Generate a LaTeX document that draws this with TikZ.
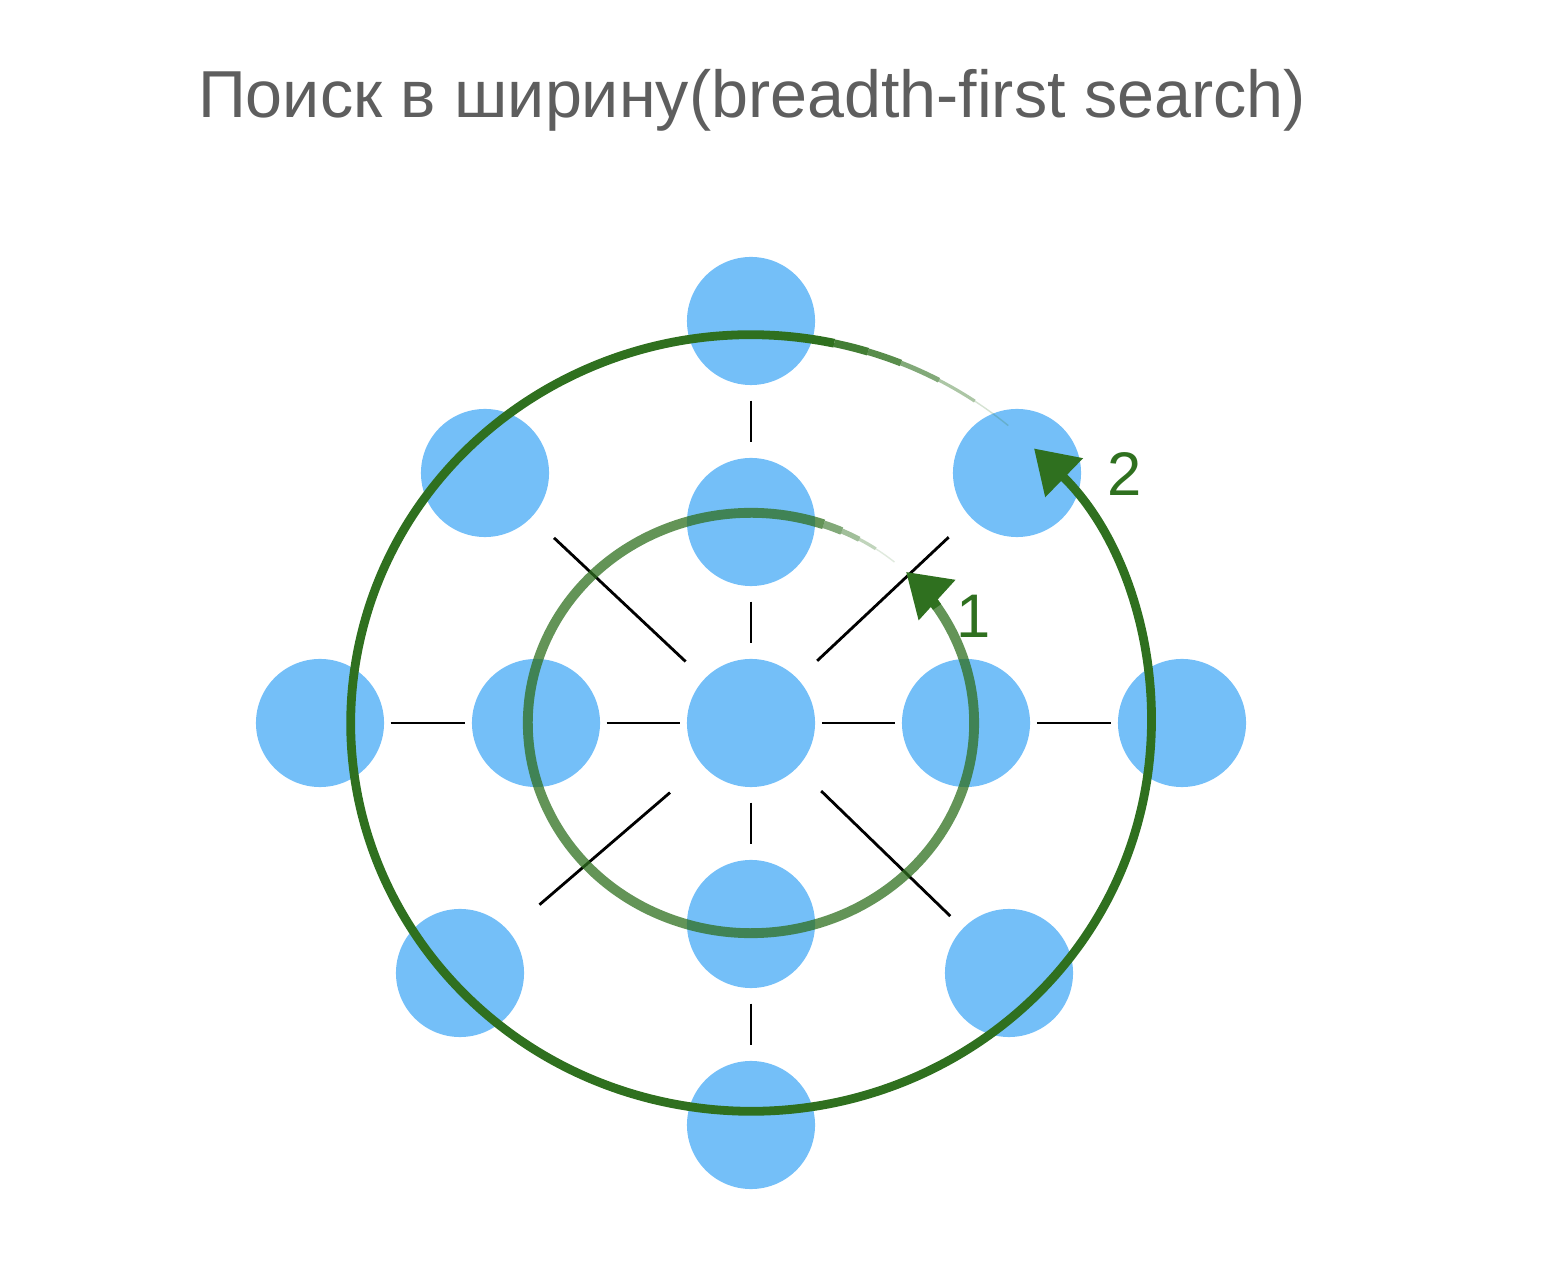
\documentclass[tikz,border=0pt]{standalone}
\usepackage{fontspec}
\setmainfont{Liberation Sans}
\usetikzlibrary{arrows.meta}
\definecolor{vertexblue}{HTML}{74BFF8}
\definecolor{ringgreen}{HTML}{2F701F}
\definecolor{titlegray}{HTML}{5E5E5E}
\tikzset{
    vertex/.style={
        circle, fill=vertexblue, minimum size=1.28cm, inner sep=0pt
    },
    edge/.style={draw=black, line width=0.8pt, shorten <=#1, shorten >=#1},
    edge/.default=0.06cm,
    ring/.style={draw=ringgreen, line width=2.5pt},
    innerring/.style={draw=ringgreen, line width=2.8pt, draw opacity=0.75},
    ringtip/.style={-{Triangle[length=0.42cm, width=0.52cm]}},
    steplabel/.style={font=\fontsize{17.5}{20}\selectfont, text=ringgreen},
    titletext/.style={anchor=base, font=\fontsize{18.9}{22}\selectfont, text=titlegray}
}
\begin{document}
\begin{tikzpicture}[x=0.01cm, y=0.01cm]
\useasboundingbox (0,0) rectangle (1560,1269);

% === TITLE ===
\node (title) [titletext] at (752,1151) {Поиск в ширину(breadth-first search)};

% === VERTICES ===
\node (root)   [vertex] at (751,546)  {};
\node (up1)    [vertex] at (751,747)  {};
\node (up2)    [vertex] at (751,948)  {};
\node (down1)  [vertex] at (751,345)  {};
\node (down2)  [vertex] at (751,144)  {};
\node (left1)  [vertex] at (536,546)  {};
\node (left2)  [vertex] at (320,546)  {};
\node (right1) [vertex] at (966,546)  {};
\node (right2) [vertex] at (1182,546) {};
\node (nw)     [vertex] at (485,796)  {};
\node (ne)     [vertex] at (1017,796) {};
\node (sw)     [vertex] at (460,296)  {};
\node (se)     [vertex] at (1009,296) {};

% === EDGES ===
\draw [edge=0.15cm] (up2) -- (up1);
\draw [edge=0.15cm] (up1) -- (root);
\draw [edge=0.15cm] (root) -- (down1);
\draw [edge=0.15cm] (down1) -- (down2);

\draw [edge] (left2) -- (left1);
\draw [edge] (left1) -- (root);
\draw [edge] (root) -- (right1);
\draw [edge] (right1) -- (right2);

\draw [edge, shorten <=0.30cm, shorten >=0.25cm] (nw) -- (root);
\draw [edge, shorten <=0.29cm, shorten >=0.26cm] (ne) -- (root);
\draw [edge, shorten <=0.40cm, shorten >=0.42cm] (sw) -- (root);
\draw [edge, shorten <=0.17cm, shorten >=0.33cm] (se) -- (root);

% === SEARCH RINGS ===
% ring 1: fading tail, body, tip
\draw [innerring, line width=0.4pt, draw opacity=0.15] (root) ++(50:2.23cm and 2.10cm)
    arc[start angle=50, end angle=56, x radius=2.23cm, y radius=2.10cm];
\draw [innerring, line width=0.9pt, draw opacity=0.3] (root) ++(56:2.23cm and 2.10cm)
    arc[start angle=56, end angle=61, x radius=2.23cm, y radius=2.10cm];
\draw [innerring, line width=1.5pt, draw opacity=0.45] (root) ++(61:2.23cm and 2.10cm)
    arc[start angle=61, end angle=66, x radius=2.23cm, y radius=2.10cm];
\draw [innerring, line width=2.2pt, draw opacity=0.6] (root) ++(66:2.23cm and 2.10cm)
    arc[start angle=66, end angle=71, x radius=2.23cm, y radius=2.10cm];
\draw [innerring] (root) ++(71:2.23cm and 2.10cm)
    arc[start angle=71, end angle=397, x radius=2.23cm, y radius=2.10cm];
\draw [ring, line width=2.8pt, ringtip] (root) ++(393.5:2.23cm and 2.10cm)
    arc[start angle=393.5, end angle=406, x radius=2.23cm, y radius=2.10cm];

% ring 2: fading tail, body with tip
\draw [ring, line width=0.4pt, draw opacity=0.2] (root) ++(50:4.00cm and 3.88cm)
    arc[start angle=50, end angle=56, x radius=4.00cm, y radius=3.88cm];
\draw [ring, line width=0.9pt, draw opacity=0.4] (root) ++(56:4.00cm and 3.88cm)
    arc[start angle=56, end angle=62, x radius=4.00cm, y radius=3.88cm];
\draw [ring, line width=1.4pt, draw opacity=0.6] (root) ++(62:4.00cm and 3.88cm)
    arc[start angle=62, end angle=68, x radius=4.00cm, y radius=3.88cm];
\draw [ring, line width=1.9pt, draw opacity=0.8] (root) ++(68:4.00cm and 3.88cm)
    arc[start angle=68, end angle=73, x radius=4.00cm, y radius=3.88cm];
\draw [ring, line width=2.2pt, draw opacity=0.9] (root) ++(73:4.00cm and 3.88cm)
    arc[start angle=73, end angle=78, x radius=4.00cm, y radius=3.88cm];
\draw [ring, ringtip] (root) ++(78:4.00cm and 3.88cm)
    arc[start angle=78, end angle=405, x radius=4.00cm, y radius=3.88cm];

% === STEP LABELS ===
\node (step1) [steplabel] at (974,653) {1};
\node (step2) [steplabel] at (1125,795) {2};

\end{tikzpicture}
\end{document}
